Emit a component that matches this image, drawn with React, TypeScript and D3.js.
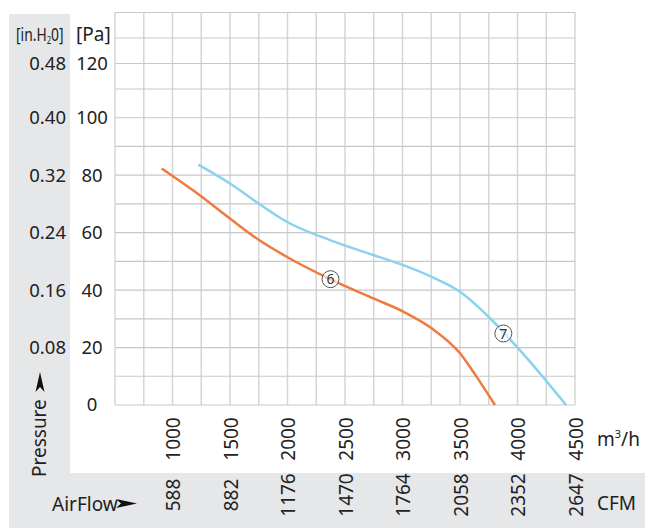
import React from "react";
import * as d3 from "d3";

const flowTicks = [1000, 1500, 2000, 2500, 3000, 3500, 4000, 4500];
const cfmLabels = ["588", "882", "1176", "1470", "1764", "2058", "2352", "2647"];
const paTicks = [0, 20, 40, 60, 80, 100, 120];
const inchLabels = ["", "0.08", "0.16", "0.24", "0.32", "0.40", "0.48"];
const gridX = d3.range(500, 4501, 250);
const gridY = d3.range(0, 141, 10);

const curve6Flow = [906, 1254, 1500, 1746, 1993, 2370, 2746, 3007, 3254, 3500, 3645, 3804];
const curve6Pa = [82.3, 72.5, 64.9, 57.6, 51.6, 43.8, 37.1, 32.5, 26.7, 18, 9.8, 0];
const curve7Flow = [1225, 1500, 1746, 1993, 2370, 2746, 3007, 3254, 3500, 3761, 4007, 4422];
const curve7Pa = [83.7, 77.1, 70.2, 63.8, 57.4, 52.2, 48.7, 44.6, 39.4, 30.2, 19.7, 0];

const markerNames = ["6", "7"];
const markerFlow = [2374, 3877];
const markerPa = [43.8, 24.9];

const FONT = "'Noto Sans', sans-serif";
const GRAY = "#e6e7e9";
const ORANGE = "#f07a3e";
const BLUE = "#8ad2f0";

export default function App() {
  const x = d3.scaleLinear().domain([500, 4500]).range([115, 575]);
  const y = d3.scaleLinear().domain([0, 110, 140]).range([405, 89, 12.5]);

  const line = d3
    .line<[number, number]>()
    .x((d) => x(d[0]))
    .y((d) => y(d[1]))
    .curve(d3.curveMonotoneX);

  const s6 = curve6Flow.map((f, i) => [f, curve6Pa[i]] as [number, number]);
  const s7 = curve7Flow.map((f, i) => [f, curve7Pa[i]] as [number, number]);

  return (
    <svg
      width={645}
      height={529}
      style={{ position: "absolute", left: 0, top: 0, background: "#fff" }}
      fontFamily={FONT}
    >
      {/* gray L-shaped band */}
      <rect x={9} y={14} width={61} height={514} fill={GRAY} />
      <rect x={9} y={473} width={636} height={55} fill={GRAY} />

      {/* grid */}
      {gridX.map((v) => (
        <line key={"gx" + v} x1={x(v)} x2={x(v)} y1={y(140)} y2={y(0)} stroke="#d6d6d6" strokeWidth={1.5} />
      ))}
      {gridY.map((v) => (
        <line key={"gy" + v} x1={x(500)} x2={x(4500)} y1={y(v)} y2={y(v)} stroke="#c8c8c8" strokeWidth={1.2} />
      ))}

      {/* curves */}
      <path d={line(s7) || ""} fill="none" stroke={BLUE} strokeWidth={2.5} />
      <path d={line(s6) || ""} fill="none" stroke={ORANGE} strokeWidth={2.5} />

      {markerNames.map((m, i) => (
        <g key={"m" + m} transform={`translate(${x(markerFlow[i])},${y(markerPa[i])})`}>
          <circle r={8.5} fill="#fff" fillOpacity={0.6} stroke="#555" strokeWidth={1} />
          <text textAnchor="middle" dy="0.36em" fontSize={14} fill="#333">
            {m}
          </text>
        </g>
      ))}

      {/* y labels */}
      {paTicks.map((v, i) => (
        <g key={"py" + v}>
          <text x={92} y={y(v)} dy="0.35em" textAnchor="middle" fontSize={18.5} fill="#222">
            {v}
          </text>
          {inchLabels[i] && (
            <text x={66} y={y(v)} dy="0.35em" textAnchor="end" fontSize={18.5} fill="#222">
              {inchLabels[i]}
            </text>
          )}
        </g>
      ))}
      <g transform="translate(16,41) scale(0.77,1)">
        <text x={0} y={0} fontSize={18} fill="#222">
          [in.H<tspan fontSize={10} dy={3}>2</tspan>
          <tspan dy={-3}>0]</tspan>
        </text>
      </g>
      <text x={76} y={41} fontSize={19} fill="#222">
        [Pa]
      </text>

      {/* x labels */}
      {flowTicks.map((v, i) => (
        <g key={"fx" + v}>
          <text
            transform={`translate(${x(v) + 1},439) rotate(-90)`}
            textAnchor="middle"
            dy="0.35em"
            fontSize={19}
            fill="#222"
          >
            {v}
          </text>
          <text
            transform={`translate(${x(v) + 1},495) rotate(-90)`}
            textAnchor="middle"
            dy="0.35em"
            fontSize={19}
            fill="#222"
          >
            {cfmLabels[i]}
          </text>
        </g>
      ))}
      <text x={597} y={446} fontSize={19} fill="#222">
        m<tspan fontSize={11} dy={-8}>3</tspan>
        <tspan dy={8}>/h</tspan>
      </text>
      <text x={597} y={510} fontSize={19} fill="#222">
        CFM
      </text>

      {/* axis titles */}
      <text x={52} y={511} fontSize={19} fill="#222">
        AirFlow
      </text>
      <path d="M116,499 L137,503.5 L116,508 L121,503.5 Z" fill="#111" />
      <text transform="translate(46,477) rotate(-90)" fontSize={19} fill="#222">
        Pressure
      </text>
      <path d="M35.5,392 L40,372 L44.5,392 L40,387 Z" fill="#111" />
    </svg>
  );
}
